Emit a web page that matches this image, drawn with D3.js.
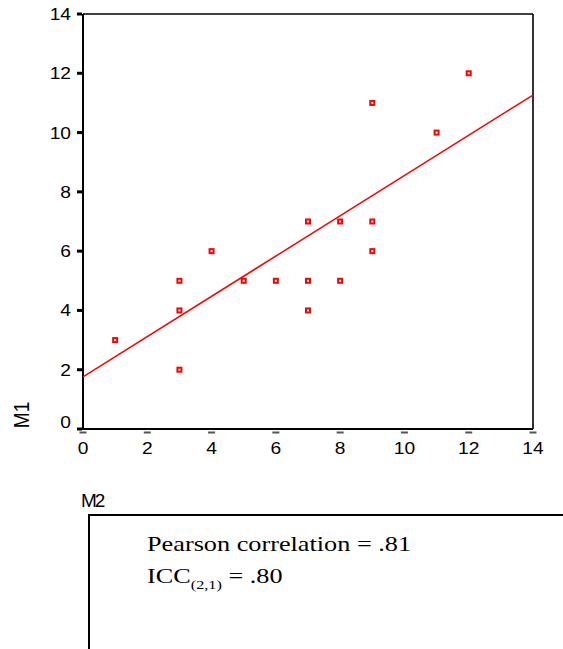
<!DOCTYPE html>
<html><head><meta charset="utf-8">
<script src="https://cdn.jsdelivr.net/npm/d3@7"></script>
<style>body{margin:0;background:#fff}svg{display:block}</style>
</head><body>
<script>
// ---- data ----
const m2 = [1, 3, 3, 3, 4, 5, 6, 7, 7, 7, 8, 8, 9, 9, 9, 11, 12];
const m1 = [3, 5, 4, 2, 6, 5, 5, 7, 5, 4, 7, 5, 11, 7, 6, 10, 12];
const fitIntercept = 1.76;
const fitSlope = 0.679;
const xTicks = [0, 2, 4, 6, 8, 10, 12, 14];
const yTicks = [0, 2, 4, 6, 8, 10, 12, 14];
const xLabel = "M2", yLabel = "M1";
const statLine1 = "Pearson correlation = .81";
const statLine2 = ["ICC", "(2,1)", " = .80"];

const W = 563, H = 649, SX = 1.2;
const svg = d3.select("body").append("svg").attr("width", W).attr("height", H);
const x = d3.scaleLinear().domain([0, 14]).range([83, 533]);
const y = d3.scaleLinear().domain([0, 14]).range([429, 14]);

// frame
svg.append("line").attr("x1", x(0)).attr("x2", x(14)).attr("y1", y(14)).attr("y2", y(14)).attr("stroke", "#000").attr("stroke-width", 1.4);
svg.append("line").attr("x1", x(14)).attr("x2", x(14)).attr("y1", y(14)).attr("y2", y(0)).attr("stroke", "#000").attr("stroke-width", 1.6);
svg.append("line").attr("x1", x(0)).attr("x2", x(0)).attr("y1", y(14)).attr("y2", y(0) + 1).attr("stroke", "#000").attr("stroke-width", 2);
svg.append("line").attr("x1", x(0) - 1).attr("x2", x(14)).attr("y1", y(0)).attr("y2", y(0)).attr("stroke", "#000").attr("stroke-width", 2);

// y ticks
svg.selectAll(".yt").data(yTicks).enter().append("rect")
  .attr("x", x(0) - 6).attr("y", d => y(d) - 1.5).attr("width", 5).attr("height", 3).attr("fill", "#000");
svg.selectAll(".yl").data(yTicks).enter().append("text")
  .attr("transform", d => `translate(71,${y(d) + (d === 0 ? -1 : 6)}) scale(${SX},1)`)
  .attr("text-anchor", "end").attr("font-family", "Liberation Sans, Arial, sans-serif")
  .attr("font-size", 16).attr("fill", "#000").text(d => d);
// x ticks
svg.selectAll(".xt").data(xTicks).enter().append("rect")
  .attr("x", d => x(d) - 3.5).attr("y", y(0) + 2.5).attr("width", 7).attr("height", 2).attr("fill", "#555");
svg.selectAll(".xl").data(xTicks).enter().append("text")
  .attr("transform", d => `translate(${x(d)},454) scale(${SX},1)`)
  .attr("text-anchor", "middle").attr("font-family", "Liberation Sans, Arial, sans-serif")
  .attr("font-size", 16).attr("fill", "#000").text(d => d);

// axis labels
svg.append("text")
  .attr("transform", `translate(29,415) scale(${SX},1) rotate(-90)`)
  .attr("text-anchor", "middle").attr("font-family", "Liberation Sans, Arial, sans-serif")
  .attr("font-size", 19).attr("fill", "#000").text(yLabel);
svg.append("text")
  .attr("transform", `translate(81,507) scale(1,1)`)
  .attr("font-family", "Liberation Sans, Arial, sans-serif").attr("letter-spacing", -2.2)
  .attr("font-size", 19).attr("fill", "#000").text(xLabel);

// fit line
svg.append("line")
  .attr("x1", x(0)).attr("y1", y(fitIntercept))
  .attr("x2", x(14)).attr("y2", y(fitIntercept + 14 * fitSlope))
  .attr("stroke", "#ff0000").attr("stroke-width", 1.5);

// points
const pts = m2.map((v, i) => ({ x: v, y: m1[i] }));
svg.selectAll(".pt").data(pts).enter().append("rect")
  .attr("x", d => x(d.x) - 2).attr("y", d => y(d.y) - 2)
  .attr("width", 4).attr("height", 4)
  .attr("fill", "#fff").attr("stroke", "#ff0000").attr("stroke-width", 2);

// stats box
svg.append("path").attr("d", `M${89},${H}V515H${W}`).attr("fill", "none").attr("stroke", "#000").attr("stroke-width", 2);
svg.append("text")
  .attr("transform", `translate(147,551) scale(1.25,1)`)
  .attr("font-family", "Liberation Serif, Times New Roman, serif").attr("font-size", 21).attr("fill", "#000")
  .text(statLine1);
const t2 = svg.append("text")
  .attr("transform", `translate(147,583) scale(1.25,1)`)
  .attr("font-family", "Liberation Serif, Times New Roman, serif").attr("font-size", 21).attr("fill", "#000");
t2.append("tspan").text(statLine2[0]);
t2.append("tspan").attr("font-size", 13).attr("dy", 6).text(statLine2[1]);
t2.append("tspan").attr("dy", -6).text(statLine2[2]);
</script>
</body></html>
